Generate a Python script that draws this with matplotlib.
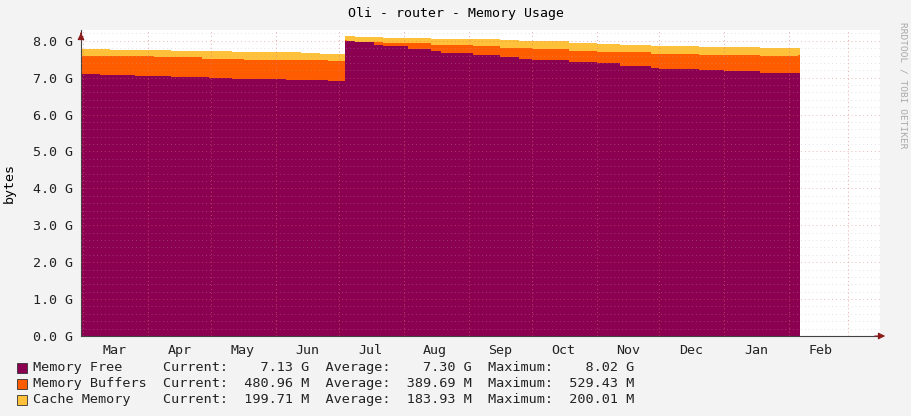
import numpy as np
import matplotlib.pyplot as plt

# days since Mar 1 where each step begins
days = [-1, 8, 13, 25, 34, 42, 57, 60, 71, 77, 97, 104, 113, 117, 125, 126, 130, 139, 143, 155,
        166, 171, 186, 199, 208, 214, 232, 245, 256, 271, 275, 294, 306, 323, 341]
free_top = [7.11, 7.08, 7.08, 7.05, 7.05, 7.02, 7.02, 6.99, 6.96, 6.96, 6.94, 6.94, 6.94, 6.91, 8.00, 8.00,
            7.97, 7.89, 7.87, 7.79, 7.72, 7.68, 7.61, 7.55, 7.50, 7.47, 7.42, 7.39, 7.33, 7.26, 7.24,
            7.20, 7.18, 7.13, 7.13]
buffers_top = [7.60, 7.58, 7.58, 7.58, 7.55, 7.55, 7.52, 7.52, 7.52, 7.48, 7.48, 7.48, 7.48, 7.45, 8.02, 8.00,
               7.98, 7.96, 7.95, 7.93, 7.89, 7.88, 7.85, 7.81, 7.80, 7.78, 7.73, 7.71, 7.69, 7.65, 7.64,
               7.62, 7.61, 7.60, 7.61]
cache_top = [7.78, 7.78, 7.75, 7.75, 7.75, 7.72, 7.72, 7.72, 7.70, 7.70, 7.70, 7.67, 7.64, 7.64, 8.13, 8.13,
             8.10, 8.10, 8.08, 8.08, 8.05, 8.05, 8.05, 8.03, 8.00, 8.00, 7.93, 7.91, 7.88, 7.86, 7.85,
             7.83, 7.82, 7.80, 7.80]
months = ['Mar', 'Apr', 'May', 'Jun', 'Jul', 'Aug', 'Sep', 'Oct', 'Nov', 'Dec', 'Jan', 'Feb']
month_len = [31, 30, 31, 30, 31, 31, 30, 31, 30, 31, 31, 28]
legend_rows = [
    ('Memory Free', '#8C0051', 'Current:    7.13 G  Average:    7.30 G  Maximum:    8.02 G'),
    ('Memory Buffers', '#FF5C00', 'Current:  480.96 M  Average:  389.69 M  Maximum:  529.43 M'),
    ('Cache Memory', '#FFC03A', 'Current:  199.71 M  Average:  183.93 M  Maximum:  200.01 M'),
]

W, H = 911, 416
fig = plt.figure(figsize=(W / 100, H / 100), dpi=100, facecolor='#F3F3F3')
x0, x1 = 81, 880
y0, y1 = 336, 30
ax = fig.add_axes([x0 / W, 1 - y0 / H, (x1 - x0) / W, (y0 - y1) / H], facecolor='white')

px_per_day = 2.096
xmin = -(83 - x0) / px_per_day
xmax = xmin + (x1 - x0) / px_per_day
ax.set_xlim(xmin, xmax)
ax.set_ylim(0, (y0 - y1) / 36.9)

d = np.array(days + [342])
f = np.array(free_top + [free_top[-1]])
b = np.array(buffers_top + [buffers_top[-1]])
c = np.array(cache_top + [cache_top[-1]])
ax.fill_between(d, 0, f, step='post', color=legend_rows[0][1], lw=0, zorder=2)
ax.fill_between(d, f, b, step='post', color=legend_rows[1][1], lw=0, zorder=2)
ax.fill_between(d, b, c, step='post', color=legend_rows[2][1], lw=0, zorder=2)

# grid
for v in np.arange(0.2, 8.3, 0.2):
    major = abs(v - round(v)) < 1e-6
    ax.axhline(v, color='#E07070' if major else '#B0B0B0', lw=0.7, ls=(0, (1, 3)),
               alpha=0.5 if major else 0.35, zorder=3)
starts = np.concatenate([[0], np.cumsum(month_len)])
for s in starts:
    ax.axvline(s, color='#E07070', lw=0.7, ls=(0, (1, 3)), alpha=0.6, zorder=3)
mids = starts[:-1] + 15
ax.set_xticks(mids)
ax.set_xticklabels(months)
ax.set_yticks(np.arange(0, 8.1, 1.0))
ax.set_yticklabels([f'{v:.1f} G' for v in np.arange(0, 8.1, 1.0)])
ax.tick_params(axis='both', which='both', length=0, labelsize=9.6, colors='#222222', pad=6)
for lab in ax.get_xticklabels() + ax.get_yticklabels():
    lab.set_family('DejaVu Sans Mono')
for sp in ['top', 'right']:
    ax.spines[sp].set_visible(False)
ax.spines['left'].set_color('#444444')
ax.spines['bottom'].set_color('#444444')
ax.set_ylabel('bytes', fontsize=9.6, family='DejaVu Sans Mono', labelpad=12)
ax.annotate('', xy=(1.01, 0), xytext=(0.99, 0), xycoords='axes fraction',
            arrowprops=dict(arrowstyle='-|>', color='#8B1A1A', lw=0.8), annotation_clip=False)
ax.annotate('', xy=(0, 1.0), xytext=(0, 0.98), xycoords='axes fraction',
            arrowprops=dict(arrowstyle='-|>', color='#8B1A1A', lw=0.8), annotation_clip=False)

fig.text(456 / W, 1 - 14 / H, 'Oli - router - Memory Usage', ha='center', va='center',
         fontsize=9.5, family='DejaVu Sans Mono')
fig.text(903 / W, 1 - 85 / H, 'RRDTOOL / TOBI OETIKER', rotation=270, ha='center', va='center',
         fontsize=6.8, family='DejaVu Sans Mono', color='#AAAAAA')

for i, (name, col, stats) in enumerate(legend_rows):
    yy = 1 - (368 + 16 * i) / H
    fig.patches.append(plt.Rectangle((17 / W, yy - 5 / H), 10 / W, 10 / H, transform=fig.transFigure,
                                     facecolor=col, edgecolor='#333333', lw=0.6))
    fig.text(33 / W, yy, f'{name:<16}{stats}', ha='left', va='center', fontsize=9.7,
             family='DejaVu Sans Mono', color='#222222')

fig.savefig('out.png', dpi=100, facecolor=fig.get_facecolor())
